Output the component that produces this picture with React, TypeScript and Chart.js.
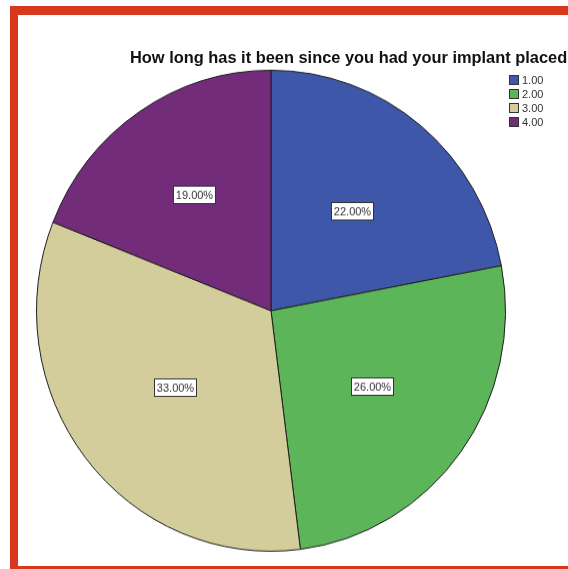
import React, { useEffect, useRef } from "react";
import { Chart, registerables } from "chart.js";

Chart.register(...registerables);

const categories = ["1.00", "2.00", "3.00", "4.00"];
const percentages = [22, 26, 33, 19];
const colors = ["#3f57a8", "#5db55a", "#d3cd9c", "#722c7a"];
const title = "How long has it been since you had your implant placed";
// label distance from centre, as a fraction of the radius (style only)
const labelRadiusFactor = [0.54, 0.535, 0.52, 0.585];

const labelPlugin = {
  id: "sliceLabels",
  afterDatasetsDraw(chart: any) {
    const ctx = chart.ctx;
    const meta = chart.getDatasetMeta(0);
    const values = chart.data.datasets[0].data;
    ctx.save();
    ctx.font = "11px 'Liberation Sans', Arial, sans-serif";
    ctx.textAlign = "center";
    ctx.textBaseline = "middle";
    meta.data.forEach((arc: any, i: number) => {
      const p = arc.getProps(["x", "y", "startAngle", "endAngle", "outerRadius"], true);
      const mid = (p.startAngle + p.endAngle) / 2;
      const r = p.outerRadius * labelRadiusFactor[i];
      const cx = p.x + Math.cos(mid) * r;
      const cy = p.y + Math.sin(mid) * r;
      const text = `${Number(values[i]).toFixed(2)}%`;
      const w = Math.round(ctx.measureText(text).width + 5);
      const h = 17;
      const bx = Math.round(cx - w / 2) + 0.5;
      const by = Math.round(cy - h / 2) + 0.5;
      ctx.fillStyle = "#ffffff";
      ctx.fillRect(bx, by, w, h);
      ctx.strokeStyle = "#333333";
      ctx.lineWidth = 1;
      ctx.strokeRect(bx, by, w, h);
      ctx.fillStyle = "#333333";
      ctx.fillText(text, bx + w / 2, by + h / 2 + 0.5);
    });
    ctx.restore();
  },
};

export default function App() {
  const ref = useRef<HTMLCanvasElement | null>(null);

  useEffect(() => {
    if (!ref.current) return;
    const chart = new Chart(ref.current, {
      type: "pie",
      data: {
        labels: categories,
        datasets: [
          {
            data: percentages,
            backgroundColor: colors,
            borderColor: "#1e1e1e",
            borderWidth: 1,
          },
        ],
      },
      options: {
        responsive: false,
        animation: false,
        devicePixelRatio: 1,
        layout: { padding: { left: 36, right: 62, top: 68, bottom: 31 } },
        plugins: {
          legend: { display: false },
          title: { display: false },
          tooltip: { enabled: false },
        },
      },
      plugins: [labelPlugin],
    });
    return () => chart.destroy();
  }, []);

  const red = "#d8391e";
  return (
    <div
      style={{
        position: "absolute",
        left: 0,
        top: 0,
        width: 568,
        height: 569,
        overflow: "hidden",
        background: "#ffffff",
        fontFamily: "'Liberation Sans', Arial, sans-serif",
      }}
    >
      <canvas
        ref={ref}
        width={568}
        height={569}
        style={{
          position: "absolute",
          left: 0,
          top: 0,
          width: 568,
          height: 569,
          transform: "scaleY(1.0255)",
          transformOrigin: "0 0",
        }}
      />
      <div style={{ position: "absolute", left: 10, top: 6, width: 558, height: 9, background: red }} />
      <div style={{ position: "absolute", left: 10, top: 6, width: 8, height: 563, background: red }} />
      <div style={{ position: "absolute", left: 10, top: 566, width: 558, height: 3, background: red }} />
      <div
        style={{
          position: "absolute",
          left: 130,
          top: 47,
          whiteSpace: "nowrap",
          fontSize: 16.4,
          lineHeight: "20px",
          fontWeight: "bold",
          color: "#111111",
        }}
      >
        {title}
      </div>
      {categories.map((c, i) => (
        <div
          key={c}
          style={{
            position: "absolute",
            left: 509,
            top: 74 + i * 14,
            height: 12,
            display: "flex",
            alignItems: "center",
            fontSize: 11,
            color: "#333333",
          }}
        >
          <div
            style={{
              width: 8,
              height: 8,
              background: colors[i],
              border: "1px solid #333333",
              marginRight: 3,
            }}
          />
          <span>{c}</span>
        </div>
      ))}
    </div>
  );
}
